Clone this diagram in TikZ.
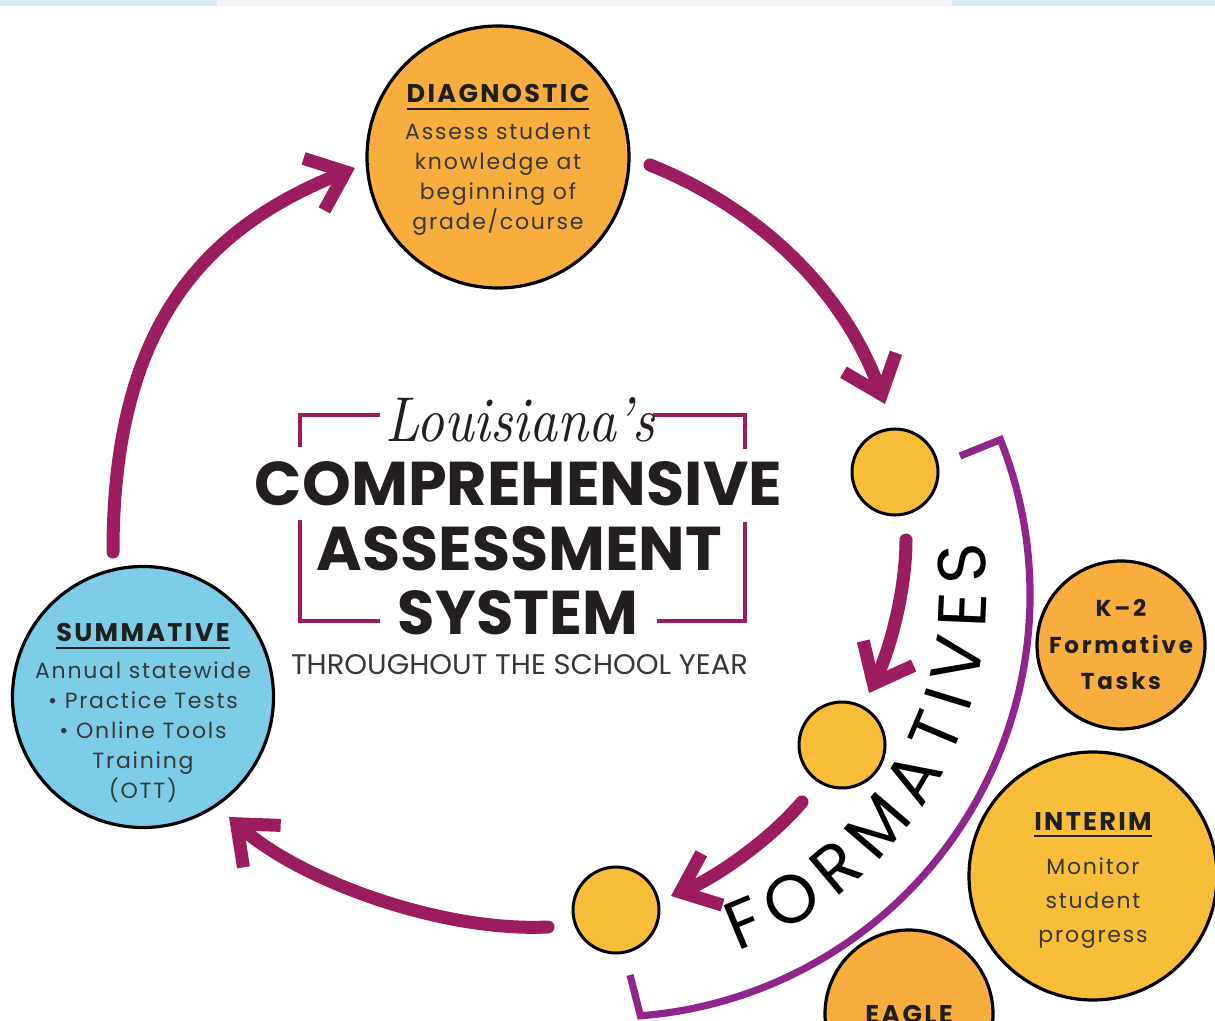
\documentclass[tikz,border=0pt]{standalone}
\usepackage{fontspec}
\usepackage{graphicx}
\usetikzlibrary{arrows.meta,decorations.text}
\newfontfamily\pop{Poppins}
\definecolor{orangeA}{HTML}{F7AE3F}
\definecolor{yellowA}{HTML}{F8BE3A}
\definecolor{blueA}{HTML}{7DCDE8}
\definecolor{arrowc}{HTML}{9C1C60}
\definecolor{arcc}{HTML}{8E268C}
\definecolor{txtc}{HTML}{383838}
\definecolor{headc}{HTML}{1F1F1F}
\definecolor{titlec}{HTML}{231F20}
\definecolor{bandblue}{HTML}{D8EBF4}
\definecolor{bandmid}{HTML}{F3F3F8}
\newcommand\hul[1]{\setbox0\hbox{#1}\leavevmode\rlap{\raisebox{-3.5pt}{\rule{\wd0}{1pt}}}\box0}
\newcommand\headf{\pop\bfseries\fontsize{12.8}{15}\selectfont\addfontfeatures{LetterSpace=9}}
\begin{document}
\begin{tikzpicture}[x=0.5pt,y=-0.5pt,
  bigc/.style={circle, draw=black, line width=1.6pt, inner sep=0pt},
  smallc/.style={circle, draw=black, line width=1.5pt, fill=yellowA, minimum size=43pt, inner sep=0pt},
  body/.style={text=txtc, align=center, font=\pop\fontsize{11}{15}\selectfont\addfontfeatures{LetterSpace=8}},
  cyc/.style={draw=arrowc, line width=6.5pt, line cap=round, -{Straight Barb[length=17pt,width=28pt]}},
  arcpath/.style={draw=arcc, line width=3.6pt, line join=miter},
  frame/.style={draw=arrowc, line width=1.8pt, line cap=butt},
  title/.style={text=titlec, inner sep=0pt, font=\pop\bfseries}]
\clip (0,0) rectangle (1215,1021);
\fill[white] (0,0) rectangle (1215,1021);
\fill[bandblue] (0,0) rectangle (1215,6);
\fill[bandmid] (217,0) rectangle (952,6);

% circles
\node[bigc, fill=orangeA, minimum size=131pt] (diag) at (498,157) {};
\node[bigc, fill=blueA, minimum size=130.5pt] (summ) at (143,697) {};
\node[smallc] (f1) at (895,472) {};
\node[smallc] (f2) at (842,745) {};
\node[smallc] (f3) at (616,910) {};
\node[bigc, fill=orangeA, minimum size=84pt] (k2) at (1121,645) {};
\node[bigc, fill=yellowA, minimum size=124pt] (interim) at (1093,876) {};
\node[bigc, fill=orangeA, minimum size=84pt] (eagle) at (909,1014) {};

% circle texts
\node[body] (diagT) at (498,160) {{\headf\color{headc}\hul{DIAGNOSTIC}}\\[3.5pt]
  Assess student\\ knowledge at\\ beginning of\\ grade/course};
\node[body] (summT) at (143,713) {{\headf\color{headc}\hul{SUMMATIVE}}\\[3.5pt]
  Annual statewide\\ • Practice Tests\\ • Online Tools\\ Training\\ (OTT)};
\node[body, font=\pop\fontsize{11}{17}\selectfont\addfontfeatures{LetterSpace=8}] (interimT) at (1093,880)
  {{\headf\color{headc}\hul{INTERIM}}\\[5pt] Monitor\\ student\\ progress};
\node[text=headc, align=center, font=\pop\bfseries\fontsize{11.5}{18.25}\selectfont\addfontfeatures{LetterSpace=12}] (k2T) at (1121,645)
  {K–2\\ Formative\\ Tasks};
\node[text=headc, font=\headf] (eagleT) at (909,1014) {EAGLE};

% title block
\draw[frame] (380,415) -- (300,415) -- (300,447);
\draw[frame] (300,520) -- (300,621) -- (380,621);
\draw[frame] (653,415) -- (745,415) -- (745,449);
\draw[frame] (745,522) -- (745,621) -- (657,621);
\node[text=titlec, inner sep=0pt] (lou) at (520,420) {\resizebox{135pt}{22pt}{\itshape Louisiana's}};
\node[title] (comp) at (518.5,484) {\resizebox{263.5pt}{22pt}{COMPREHENSIVE}};
\node[title] (asse) at (519.5,549) {\resizebox{202.5pt}{22pt}{ASSESSMENT}};
\node[title] (syst) at (518,613) {\resizebox{120pt}{22pt}{SYSTEM}};
\node[text=txtc, inner sep=0pt, font=\pop] (thr) at (519.5,665) {\resizebox{228.5pt}{10pt}{THROUGHOUT THE SCHOOL YEAR}};

% cycle arrows
\coordinate (a1s) at (113,552); \coordinate (a1e) at (355,168);
\coordinate (a2s) at (650,165); \coordinate (a2e) at (885,404);
\coordinate (a3s) at (906,540); \coordinate (a3e) at (869,693);
\coordinate (a4s) at (802,802); \coordinate (a4e) at (671,896);
\coordinate (a5s) at (548,927); \coordinate (a5e) at (229,817);
\draw[cyc] (a1s) .. controls (113,330) and (200,230) .. (a1e);
\draw[cyc] (a2s) .. controls (750,205) and (840,282) .. (a2e);
\draw[cyc] (a3s) .. controls (906,590) and (890,650) .. (a3e);
\draw[cyc] (a4s) .. controls (770,840) and (715,878) .. (a4e);
\draw[cyc] (a5s) .. controls (440,932) and (300,880) .. (a5e);

% formatives bracket
\coordinate (hk1) at (960,456);
\coordinate (hk2) at (630,975);
\draw[arcpath] (hk1) -- (1000.4,439.7) arc[start angle=-21.6, end angle=85.6, radius=422] -- (hk2);
\path[decorate, decoration={text along path, text={|\pop\fontsize{34}{34}\selectfont|FORMATIVES}, text align={fit to path}}]
  (737.6,951.1) arc[start angle=70, end angle=-8, radius=379];
\end{tikzpicture}
\end{document}
